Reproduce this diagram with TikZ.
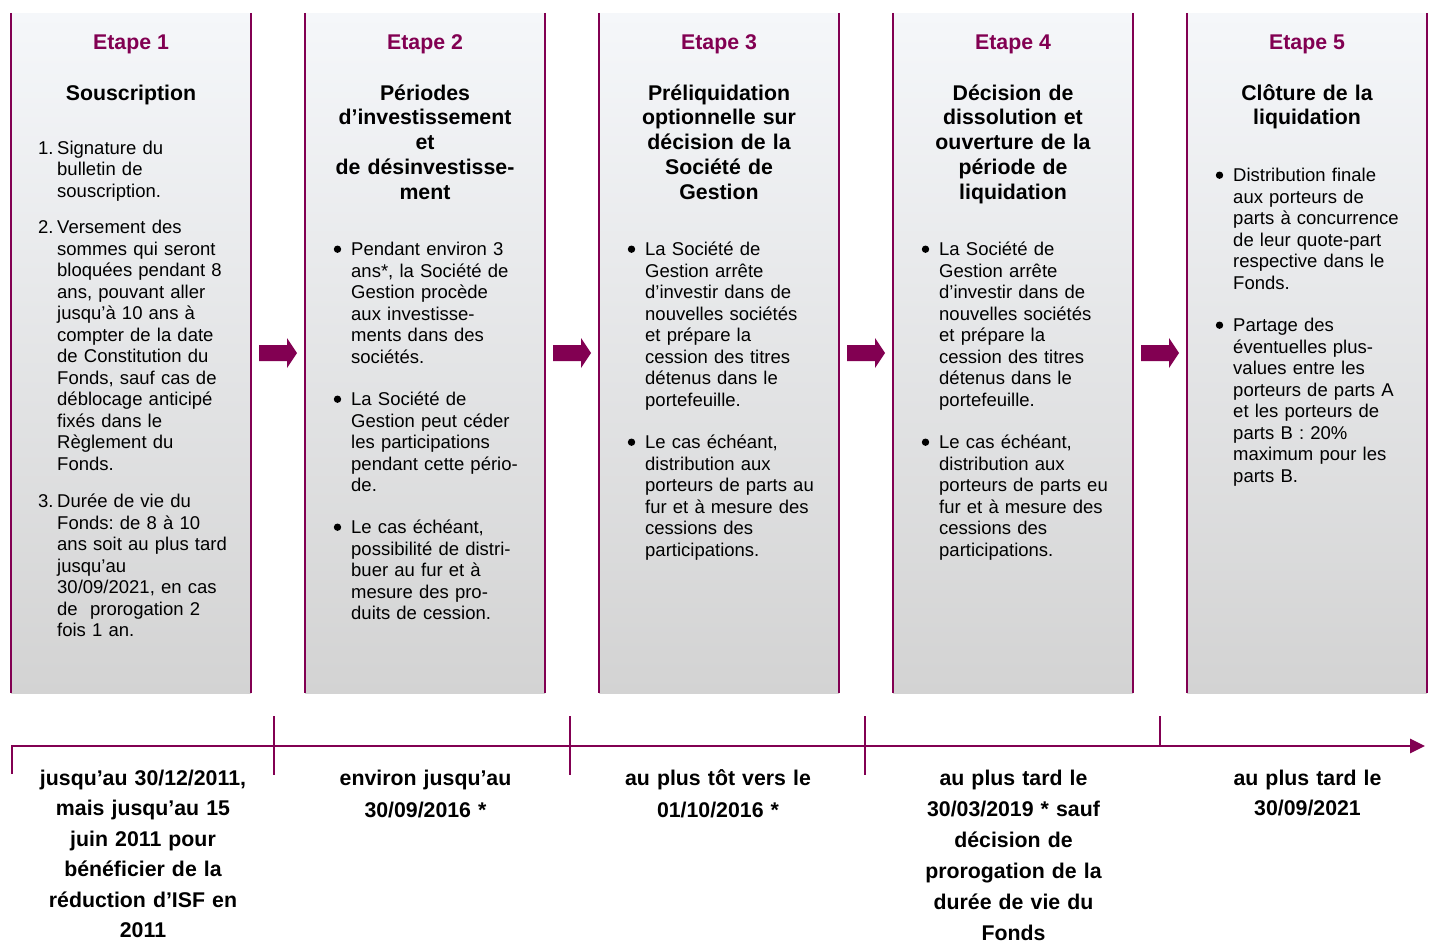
\documentclass[tikz,border=0pt]{standalone}
\usepackage{fontspec}
\setmainfont{Liberation Sans}
\usetikzlibrary{arrows.meta}
\definecolor{mag}{RGB}{130,0,82}
\definecolor{topg}{RGB}{245,247,250}
\definecolor{botg}{RGB}{211,211,211}
\newcommand\itnum[1]{\leavevmode\llap{\makebox[19pt][l]{#1}}}
\frenchspacing
\begin{document}
\begin{tikzpicture}[x=1pt,y=-1pt,
  colbox/.style={minimum width=240pt,minimum height=680pt,inner sep=0pt,top color=topg,bottom color=botg,draw=none},
  border/.style={draw=mag,line width=2pt},
  etape/.style={anchor=base,inner sep=0pt,text=mag,font=\bfseries\fontsize{21.3}{24.8}\selectfont},
  ttl/.style={anchor=base,inner sep=0pt,text width=236pt,align=center,font=\bfseries\fontsize{21.3}{24.8}\selectfont},
  body/.style={anchor=base west,inner sep=0pt,text width=200pt,align=left,font=\fontsize{18.5}{21.5}\selectfont},
  tlab/.style={anchor=base,inner sep=0pt,text width=270pt,align=center},
  tline/.style={draw=mag,line width=2.8pt},
  blockarrow/.style={fill=mag,draw=none},
  bulletdot/.style={fill=black}
]
\useasboundingbox (0,0) rectangle (1432,943);

% columns
\foreach \i/\cx in {1/131,2/425,3/719,4/1013,5/1307}{
  \node[colbox] (c\i) at (\cx,353) {};
  \draw[border] (c\i.north west) -- (c\i.south west);
  \draw[border] (c\i.north east) -- (c\i.south east);
  \node[etape] (e\i) at (\cx,49) {Etape \i};
}

% block arrows between columns
\foreach \L in {259,553,847,1141}{
  \fill[blockarrow] (\L,345) -- (\L+28,345) -- (\L+28,338) -- (\L+38,353) -- (\L+28,368) -- (\L+28,361) -- (\L,361) -- cycle;
}

% column 1
\node[ttl] (t1) at (131,100) {Souscription};
\node[body] (b11) at (57,154) {\itnum{1.}Signature du\\bulletin de\\souscription.};
\node[body] (b12) at (57,233.5) {\itnum{2.}Versement des\\sommes qui seront\\bloquées pendant 8\\ans, pouvant aller\\jusqu'à 10 ans à\\compter de la date\\de Constitution du\\Fonds, sauf cas de\\déblocage anticipé\\fixés dans le\\Règlement du\\Fonds.};
\node[body] (b13) at (57,507.5) {\itnum{3.}Durée de vie du\\Fonds: de 8 à 10\\ans soit au plus tard\\jusqu'au\\30/09/2021, en cas\\de\ \ prorogation 2\\fois 1 an.};

% column 2
\node[ttl] (t2) at (425,100) {Périodes\\d’investissement\\et\\de désinvestisse-\\ment};
\node[body] (b21) at (351,255.5) {Pendant environ 3\\ans*, la Société de\\Gestion procède\\aux investisse-\\ments dans des\\sociétés.};
\node[body] (b22) at (351,405.5) {La Société de\\Gestion peut céder\\les participations\\pendant cette pério-\\de.};
\node[body] (b23) at (351,533.5) {Le cas échéant,\\possibilité de distri-\\buer au fur et à\\mesure des pro-\\duits de cession.};

% column 3
\node[ttl] (t3) at (719,100) {Préliquidation\\optionnelle sur\\décision de la\\Société de\\Gestion};
\node[body] (b31) at (645,255.5) {La Société de\\Gestion arrête\\d’investir dans de\\nouvelles sociétés\\et prépare la\\cession des titres\\détenus dans le\\portefeuille.};
\node[body] (b32) at (645,448.5) {Le cas échéant,\\distribution aux\\porteurs de parts au\\fur et à mesure des\\cessions des\\participations.};

% column 4
\node[ttl] (t4) at (1013,100) {Décision de\\dissolution et\\ouverture de la\\période de\\liquidation};
\node[body] (b41) at (939,255.5) {La Société de\\Gestion arrête\\d’investir dans de\\nouvelles sociétés\\et prépare la\\cession des titres\\détenus dans le\\portefeuille.};
\node[body] (b42) at (939,448.5) {Le cas échéant,\\distribution aux\\porteurs de parts eu\\fur et à mesure des\\cessions des\\participations.};

% column 5
\node[ttl] (t5) at (1307,100) {Clôture de la\\liquidation};
\node[body] (b51) at (1233,181.5) {Distribution finale\\aux porteurs de\\parts à concurrence\\de leur quote-part\\respective dans le\\Fonds.};
\node[body] (b52) at (1233,331.5) {Partage des\\éventuelles plus-\\values entre les\\porteurs de parts A\\et les porteurs de\\parts B : 20\%\\maximum pour les\\parts B.};

% bullets
\foreach \n in {b21,b22,b23,b31,b32,b41,b42,b51,b52}{
  \fill[bulletdot] (\n.base west) ++(-13.5,-6.3) circle (3.7pt);
}

% timeline
\coordinate (tl0) at (12,774);
\coordinate (tl1) at (12,746);
\coordinate (tlend) at (1425,746);
\draw[tline,line join=miter,-{Triangle[length=15pt,width=14pt]}] (tl0) -- (tl1) -- (tlend);
\foreach \x in {274,570,865}{
  \coordinate (k\x a) at (\x,716);
  \coordinate (k\x b) at (\x,775);
  \draw[tline] (k\x a) -- (k\x b);
}
\coordinate (k1160a) at (1160,716);
\coordinate (k1160b) at (1160,746);
\draw[tline] (k1160a) -- (k1160b);

% timeline labels
\node[tlab,font=\bfseries\fontsize{21.3}{30.4}\selectfont] (d1) at (143,785.5) {jusqu’au 30/12/2011,\\mais jusqu’au 15\\juin 2011 pour\\bénéficier de la\\réduction d’ISF en\\2011};
\node[tlab,font=\bfseries\fontsize{21.3}{32}\selectfont] (d2) at (425.5,785.5) {environ jusqu’au\\30/09/2016 *};
\node[tlab,font=\bfseries\fontsize{21.3}{32}\selectfont] (d3) at (718,785.5) {au plus tôt vers le\\01/10/2016 *};
\node[tlab,font=\bfseries\fontsize{21.3}{31}\selectfont] (d4) at (1013.5,785.5) {au plus tard le\\30/03/2019 * sauf\\décision de\\prorogation de la\\durée de vie du\\Fonds};
\node[tlab,font=\bfseries\fontsize{21.3}{30}\selectfont] (d5) at (1307.5,785.5) {au plus tard le\\30/09/2021};
\end{tikzpicture}
\end{document}
